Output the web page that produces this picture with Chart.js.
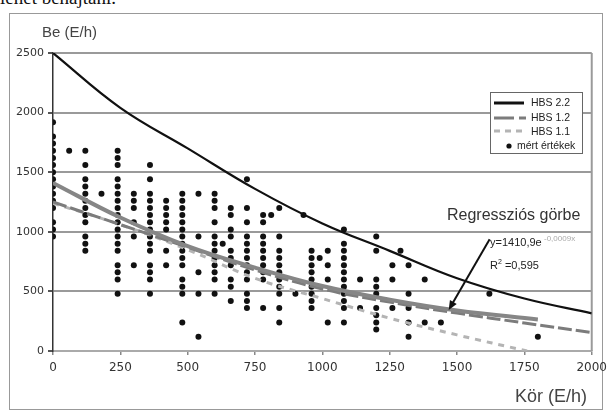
<!DOCTYPE html>
<html>
<head>
<meta charset="utf-8">
<script src="https://cdn.jsdelivr.net/npm/chart.js@4.4.1/dist/chart.umd.min.js"></script>
<style>
  html, body { margin: 0; padding: 0; background: #fff; }
  #page { position: relative; width: 613px; height: 410px; overflow: hidden;
          font-family: "Liberation Sans", Arial, sans-serif; }
  #doctext { position: absolute; left: 0; top: -12px; font: 19px/19px "Liberation Serif", serif; color: #111; }
  #frame { position: absolute; left: 9px; top: 13px; width: 592px; height: 395px; border: 1px solid #999; }
  #wrap { position: absolute; left: 0; top: 0; width: 613px; height: 410px; }
  .txt { position: absolute; white-space: nowrap; line-height: 1; }
  #legend { position: absolute; left: 490px; top: 92px; width: 91px; height: 60px;
            border: 1px solid #666; background: #fff; }
  #legend svg { position: absolute; left: 3px; }
  #legend .lab { position: absolute; font-size: 10.5px; line-height: 1; color: #222; white-space: nowrap; }
</style>
</head>
<body>
<div id="page">
  <div id="doctext">lehet behajtani.</div>
  <div id="frame"></div>
  <div id="wrap"><canvas id="chart"></canvas></div>

  <div class="txt" style="left:42px; top:24px; font-size:15px; color:#444;">Be (E/h)</div>
  <div class="txt" style="left:515px; top:387px; font-size:18px; color:#444;">Kör (E/h)</div>
  <div class="txt" style="left:447px; top:207px; font-size:16px; color:#333;">Regressziós görbe</div>
  <div class="txt" style="left:490px; top:237px; font-size:11px; color:#222;">y=1410,9e</div>
  <div class="txt" style="left:544px; top:235px; font-size:8px; color:#aaa;">-0,0009x</div>
  <div class="txt" style="left:490px; top:258px; font-size:11px; color:#222;">R<sup style="font-size:7px">2</sup> =0,595</div>

  <div id="legend">
    <svg style="top:7px" width="32" height="6"><line x1="0" y1="3" x2="30" y2="3" stroke="#111" stroke-width="3"/></svg>
    <span class="lab" style="left:40px; top:4px;">HBS 2.2</span>
    <svg style="top:22px" width="32" height="6"><line x1="0" y1="3" x2="32" y2="3" stroke="#7c7c7c" stroke-width="3" stroke-dasharray="20 5"/></svg>
    <span class="lab" style="left:40px; top:19px;">HBS 1.2</span>
    <svg style="top:35px" width="32" height="6"><line x1="0" y1="3" x2="32" y2="3" stroke="#b4b4b4" stroke-width="3" stroke-dasharray="6 5"/></svg>
    <span class="lab" style="left:40px; top:33px;">HBS 1.1</span>
    <svg style="top:50px; left:15px" width="6" height="6"><circle cx="3" cy="3" r="2.6" fill="#111"/></svg>
    <span class="lab" style="left:26px; top:47px;">mért értékek</span>
  </div>
</div>

<script>
// Measured traffic (Be vs Kör, E/h) with HBS capacity curves and the regression curve.

const measuredKor = [0, 60, 120, 180, 240, 300, 360, 420, 480, 540, 600, 630, 660, 720, 780, 810,
                     840, 900, 930, 960, 990, 1020, 1080, 1140, 1200, 1260, 1290, 1320, 1380, 1440, 1620, 1800];
const measuredBe = [
    [1920, 1800, 1740, 1680, 1620, 1560, 1500, 1440, 1380, 1320, 1260, 1200, 1080, 1020, 960],
    [1680],
    [1680, 1560, 1440, 1380, 1320, 1260, 1200, 1140, 1080, 960, 900, 840],
    [1320],
    [1680, 1620, 1560, 1440, 1380, 1320, 1260, 1200, 1140, 1080, 1020, 960, 900, 840, 720, 660, 600, 480],
    [1320, 1260, 1200, 1080, 960, 720],
    [1560, 1440, 1320, 1260, 1200, 1140, 1080, 1020, 960, 900, 840, 720, 660, 600, 480],
    [1260, 1200, 1140, 1080, 1020, 840, 720],
    [1320, 1260, 1200, 1140, 1080, 1020, 960, 900, 840, 780, 720, 600, 540, 480, 240],
    [1320, 960, 660, 480, 120],
    [1320, 1260, 1200, 1080, 960, 900, 840, 780, 720, 660, 600, 480],
    [900],
    [1200, 1140, 1020, 960, 840, 780, 720, 600, 540, 420],
    [1440, 1200, 1080, 960, 900, 840, 780, 720, 660, 600, 480, 420, 360],
    [1140, 1080, 960, 900, 840, 780, 720, 660, 600, 360],
    [1140],
    [1200, 960, 840, 780, 720, 660, 600, 540, 480, 360, 240],
    [480],
    [1140],
    [840, 780, 720, 660, 600, 540, 480, 420, 360],
    [780],
    [840, 720, 600, 240],
    [1020, 900, 840, 780, 720, 660, 600, 540, 480, 420, 360, 240],
    [600, 360],
    [960, 840, 600, 540, 480, 360, 300, 240, 180],
    [720, 600, 360],
    [840],
    [720, 480, 360, 240, 120],
    [600, 240],
    [240],
    [480],
    [120]
];

// HBS curves
const curveKor = [0, 250, 500, 750, 1000, 1250, 1500, 1750, 2000];
const hbs22 = [2500, 2040, 1700, 1360, 1070, 840, 610, 440, 316];
const hbs12 = [1250, 1060, 870, 680, 520, 410, 318, 235, 155];
const hbs11Kor = [0, 250, 500, 750, 1000, 1250, 1500, 1760];
const hbs11 = [1240, 1060, 850, 610, 440, 275, 135, 0];

// Regression curve (y=1410,9e^-0,0009x)
const regrKor = [0, 250, 500, 750, 1000, 1250, 1500, 1800];
const regression = [1410, 1120, 880, 700, 545, 430, 340, 265];

// Axis ticks
const korTicks = { min: 0, max: 2000, step: 250 };
const beTicks = { min: 0, max: 2500, step: 500 };

// Annotation arrow, in data units: from the label down to the curve
const arrowFrom = { x: 1621, y: 937 };
const arrowTo = { x: 1469, y: 344 };

function toPoints(xs, ys) {
    return xs.map((x, i) => ({ x: x, y: ys[i] }));
}

const measuredPoints = [];
measuredKor.forEach((kor, i) => {
    measuredBe[i].forEach(be => measuredPoints.push({ x: kor, y: be }));
});

const curveStyle = {
    showLine: true,
    pointRadius: 0,
    fill: false,
    tension: 0.4,
};

// Right edge of the plot and the arrow
const plotDecor = {
    id: 'plotDecor',
    beforeDatasetsDraw(chart) {
        const { ctx, chartArea } = chart;
        ctx.save();
        ctx.strokeStyle = '#9a9a9a';
        ctx.lineWidth = 2;
        ctx.beginPath();
        ctx.moveTo(chartArea.right, chartArea.top);
        ctx.lineTo(chartArea.right, chartArea.bottom);
        ctx.stroke();
        ctx.restore();
    },
    afterDatasetsDraw(chart) {
        const { ctx } = chart;
        const xs = chart.scales.x, ys = chart.scales.y;
        const x1 = xs.getPixelForValue(arrowFrom.x), y1 = ys.getPixelForValue(arrowFrom.y);
        const x2 = xs.getPixelForValue(arrowTo.x), y2 = ys.getPixelForValue(arrowTo.y);
        const ang = Math.atan2(y2 - y1, x2 - x1);
        const head = 10;
        ctx.save();
        ctx.strokeStyle = '#111';
        ctx.fillStyle = '#111';
        ctx.lineWidth = 2;
        ctx.beginPath();
        ctx.moveTo(x1, y1);
        ctx.lineTo(x2 - Math.cos(ang) * head * 0.8, y2 - Math.sin(ang) * head * 0.8);
        ctx.stroke();
        ctx.beginPath();
        ctx.moveTo(x2, y2);
        ctx.lineTo(x2 - head * Math.cos(ang - 0.4), y2 - head * Math.sin(ang - 0.4));
        ctx.lineTo(x2 - head * Math.cos(ang + 0.4), y2 - head * Math.sin(ang + 0.4));
        ctx.closePath();
        ctx.fill();
        ctx.restore();
    }
};

new Chart(document.getElementById('chart').getContext('2d'), {
    type: 'scatter',
    data: {
        datasets: [
            Object.assign({
                label: 'HBS 2.2',
                data: toPoints(curveKor, hbs22),
                borderColor: '#111',
                borderWidth: 2.2,
                order: 1,
            }, curveStyle),
            Object.assign({
                label: 'Regressziós görbe',
                data: toPoints(regrKor, regression),
                borderColor: '#868686',
                borderWidth: 4,
                order: 2,
            }, curveStyle),
            Object.assign({
                label: 'HBS 1.2',
                data: toPoints(curveKor, hbs12),
                borderColor: '#7c7c7c',
                borderWidth: 3,
                borderDash: [14, 4],
                order: 3,
            }, curveStyle),
            Object.assign({
                label: 'HBS 1.1',
                data: toPoints(hbs11Kor, hbs11),
                borderColor: '#b4b4b4',
                borderWidth: 3,
                borderDash: [6, 6],
                order: 4,
            }, curveStyle),
            {
                label: 'mért értékek',
                data: measuredPoints,
                showLine: false,
                pointRadius: 3,
                pointBorderWidth: 0,
                pointBackgroundColor: '#111',
                order: 5,
            }
        ]
    },
    options: {
        responsive: true,
        maintainAspectRatio: false,
        animation: false,
        layout: { padding: { left: 0, top: 53, right: 21, bottom: 0 } },
        scales: {
            x: {
                type: 'linear',
                min: korTicks.min,
                max: korTicks.max,
                afterFit: function (scale) { scale.height = 59; },
                ticks: {
                    stepSize: korTicks.step,
                    color: '#333',
                    padding: 6,
                    font: { family: 'DejaVu Sans', size: 12 },
                    callback: function (value) { return String(value); }
                },
                grid: { drawOnChartArea: false, tickLength: 4, color: '#888', lineWidth: 1.5 },
                border: { color: '#aaa', width: 2 }
            },
            y: {
                min: beTicks.min,
                max: beTicks.max,
                afterFit: function (scale) { scale.width = 53; },
                ticks: {
                    stepSize: beTicks.step,
                    color: '#333',
                    padding: 4,
                    font: { family: 'DejaVu Sans', size: 11 },
                    callback: function (value) { return String(value); }
                },
                grid: { color: '#9a9a9a', lineWidth: 2, tickLength: 5, tickColor: '#555' },
                border: { color: '#333', width: 1.5 }
            }
        },
        plugins: {
            legend: { display: false },
            tooltip: { enabled: false }
        }
    },
    plugins: [plotDecor]
});
</script>
</body>
</html>
